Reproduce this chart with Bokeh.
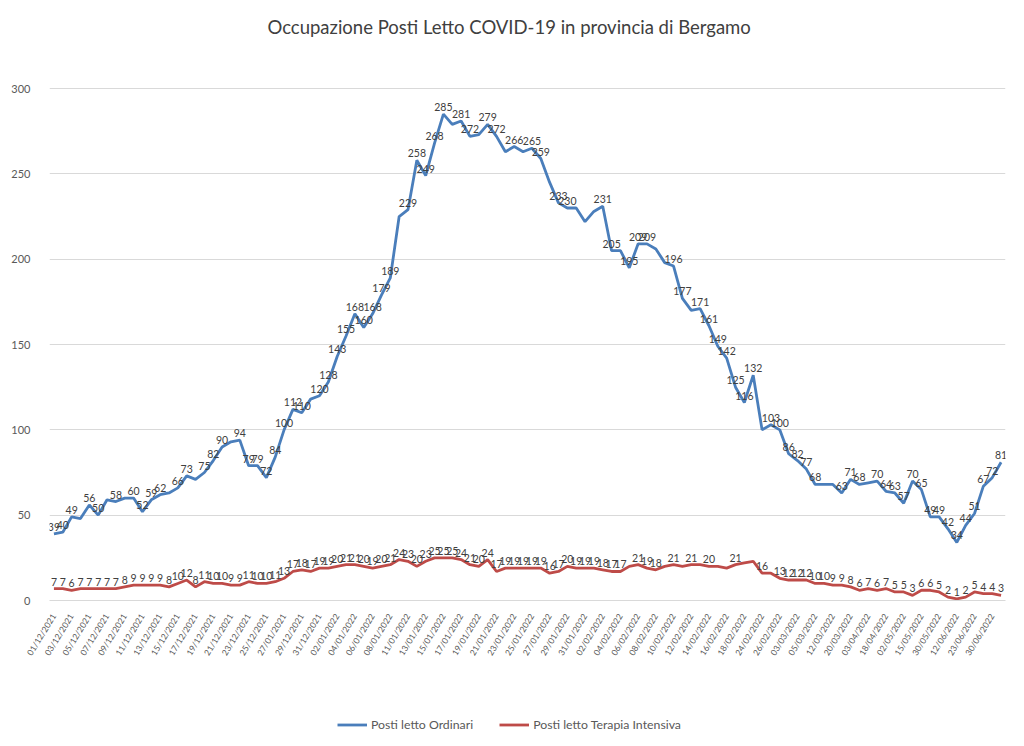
from bokeh.plotting import figure
from bokeh.layouts import column
from bokeh.models import ColumnDataSource, FixedTicker, Legend, LegendItem
from bokeh.core.properties import value
from bokeh.embed import file_html
from bokeh.resources import INLINE

title_text = "Occupazione Posti Letto COVID-19 in provincia di Bergamo"
series_names = ["Posti letto Ordinari", "Posti letto Terapia Intensiva"]

tick_labels = [
    "01/12/2021", "03/12/2021", "05/12/2021", "07/12/2021", "09/12/2021", "11/12/2021",
    "13/12/2021", "15/12/2021", "17/12/2021", "19/12/2021", "21/12/2021", "23/12/2021",
    "25/12/2021", "27/01/2021", "29/12/2021", "31/12/2021", "02/01/2022", "04/01/2022",
    "06/01/2022", "08/01/2022", "11/01/2022", "13/01/2022", "15/01/2022", "17/01/2022",
    "19/01/2022", "21/01/2022", "23/01/2022", "25/01/2022", "27/01/2022", "29/01/2022",
    "31/01/2022", "02/02/2022", "04/02/2022", "06/02/2022", "08/02/2022", "10/02/2022",
    "12/02/2022", "14/02/2022", "16/02/2022", "18/02/2022", "24/02/2022", "26/02/2022",
    "03/03/2022", "05/03/2022", "12/03/2022", "20/03/2022", "03/04/2022", "18/04/2022",
    "02/05/2022", "15/05/2022", "30/05/2022", "12/06/2022", "23/06/2022", "30/06/2022",
]

ordinari = [
    39, 40, 49, 48, 56, 50, 59, 58, 60, 60,
    52, 59, 62, 63, 66, 73, 71, 75, 82, 90,
    93, 94, 79, 79, 72, 84, 100, 112, 110, 118,
    120, 128, 143, 155, 168, 160, 168, 179, 189, 225,
    229, 258, 249, 268, 285, 279, 281, 272, 273, 279,
    272, 263, 266, 263, 265, 259, 245, 233, 230, 230,
    222, 228, 231, 205, 205, 195, 209, 209, 206, 198,
    196, 177, 170, 171, 161, 149, 142, 125, 116, 132,
    100, 103, 100, 86, 82, 77, 68, 68, 68, 63,
    71, 68, 69, 70, 64, 63, 57, 70, 65, 49,
    49, 42, 34, 44, 51, 67, 72, 81,
]

intensiva = [
    7, 7, 6, 7, 7, 7, 7, 7, 8, 9,
    9, 9, 9, 8, 10, 12, 8, 11, 10, 10,
    9, 9, 11, 10, 10, 11, 13, 17, 18, 17,
    19, 19, 20, 21, 21, 20, 19, 20, 21, 24,
    23, 20, 23, 25, 25, 25, 24, 21, 20, 24,
    17, 19, 19, 19, 19, 19, 16, 17, 20, 19,
    19, 19, 18, 17, 17, 20, 21, 19, 18, 20,
    21, 20, 21, 21, 20, 20, 19, 21, 22, 23,
    16, 16, 13, 12, 12, 12, 10, 10, 9, 9,
    8, 6, 7, 6, 7, 5, 5, 3, 6, 6,
    5, 2, 1, 2, 5, 4, 4, 3,
]

# points whose value label is not shown in the original chart
ordinari_unlabelled = [3, 6, 8, 13, 16, 20, 29, 39, 45, 48, 51, 53, 56, 59, 60, 61,
                       64, 68, 69, 72, 80, 87, 88, 92]
intensiva_unlabelled = [65, 69, 71, 73, 75, 76, 78, 79, 81]

y_ticks = [0, 50, 100, 150, 200, 250, 300]

BLUE = "#4A7EBB"
RED = "#BE4B48"
FONT = "Lato"

n = len(ordinari)
xs = list(range(n))

src_o = ColumnDataSource(dict(
    x=xs, y=ordinari,
    label=["" if i in ordinari_unlabelled else str(v) for i, v in enumerate(ordinari)]))
src_i = ColumnDataSource(dict(
    x=xs, y=intensiva,
    label=["" if i in intensiva_unlabelled else str(v) for i, v in enumerate(intensiva)]))

# ---------------- main chart ----------------
p = figure(width=1008, height=664, x_range=(-0.5, n - 0.5), y_range=(0, 322.3),
           output_backend="svg", toolbar_location=None,
           min_border_left=49, min_border_right=3, min_border_top=50, min_border_bottom=64)

p.title.text = title_text
p.title.align = "left"
p.title.offset = 218
p.title.vertical_align = "bottom"
p.title.standoff = 26
p.title.text_font = FONT
p.title.text_font_size = "18.5px"
p.title.text_font_style = "normal"
p.title.text_color = "#404040"

p.outline_line_color = None
p.background_fill_color = "white"
p.border_fill_color = "white"

r_o = p.line("x", "y", source=src_o, line_color=BLUE, line_width=2.8)
r_i = p.line("x", "y", source=src_i, line_color=RED, line_width=2.8)

for src in (src_o, src_i):
    p.text("x", "y", text="label", source=src, text_font=value(FONT),
           text_font_size="10.5px", text_color="#404040",
           text_align="center", text_baseline="bottom", y_offset=-3)

p.xgrid.grid_line_color = None
p.ygrid.grid_line_color = "#D9D9D9"
p.ygrid.grid_line_width = 1
p.yaxis.ticker = FixedTicker(ticks=y_ticks)
p.yaxis.axis_line_color = None
p.yaxis.major_tick_line_color = None
p.yaxis.minor_tick_line_color = None
p.yaxis.major_label_text_font = FONT
p.yaxis.major_label_text_font_size = "11px"
p.yaxis.major_label_text_color = "#595959"
p.yaxis.major_label_standoff = 13

tick_pos = list(range(0, n - 1, 2))[:len(tick_labels)]
p.xaxis.ticker = FixedTicker(ticks=tick_pos)
p.xaxis.major_label_overrides = {t: lab for t, lab in zip(tick_pos, tick_labels)}
p.xaxis.major_label_orientation = 1.02
p.xaxis.axis_line_color = "#D9D9D9"
p.xaxis.major_tick_line_color = None
p.xaxis.minor_tick_line_color = None
p.xaxis.major_label_text_font = FONT
p.xaxis.major_label_text_font_size = "8.5px"
p.xaxis.major_label_text_color = "#595959"
p.xaxis.major_label_standoff = 8

# ---------------- legend strip ----------------
q = figure(width=1008, height=72, x_range=(0, 1), y_range=(0, 1),
           output_backend="svg", toolbar_location=None,
           x_axis_location=None, y_axis_location=None, min_border=0)
q.outline_line_color = None
q.xgrid.visible = False
q.ygrid.visible = False
q.background_fill_color = "white"
q.border_fill_color = "white"
nan = float("nan")
k_o = q.line(x=[nan], y=[nan], line_color=BLUE, line_width=2.8)
k_i = q.line(x=[nan], y=[nan], line_color=RED, line_width=2.8)

legend = Legend(items=[LegendItem(label=series_names[0], renderers=[k_o]),
                       LegendItem(label=series_names[1], renderers=[k_i])],
                orientation="horizontal", location=(288, 4),
                border_line_color=None, background_fill_alpha=0,
                glyph_width=30, glyph_height=15, label_standoff=4, spacing=26,
                padding=0, margin=0, label_height=15,
                label_text_font=FONT, label_text_font_size="12.3px",
                label_text_color="#595959")
q.add_layout(legend, "center")

layout = column(p, q, spacing=0)
open("out.html", "w").write(file_html(layout, INLINE))
